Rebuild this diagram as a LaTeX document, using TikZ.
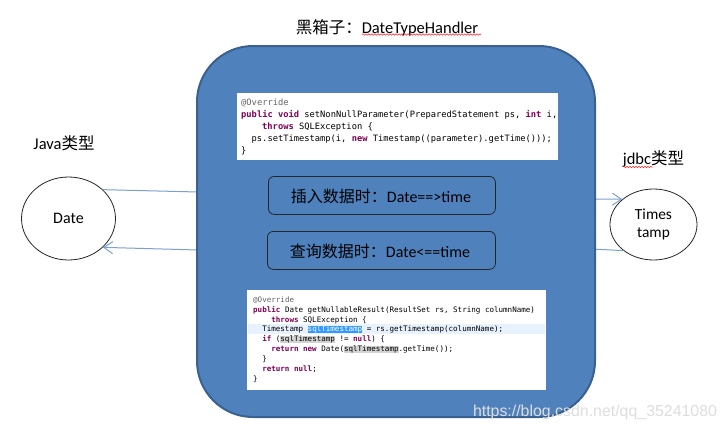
\documentclass[tikz,border=0pt]{standalone}
\usepackage{fontspec}
\setmainfont{Carlito}
\setmonofont{DejaVu Sans Mono}
\newfontfamily\cjk{Noto Sans CJK SC}
\newfontfamily\wmfont{Liberation Sans}
\usetikzlibrary{arrows.meta,shapes.geometric,decorations.pathmorphing}
\definecolor{boxblue}{HTML}{4F81BD}
\definecolor{boxedge}{HTML}{3A6190}
\definecolor{arrowc}{HTML}{7CA1D1}
\definecolor{kwc}{HTML}{7F0055}
\definecolor{annc}{HTML}{646464}
\definecolor{selc}{HTML}{3399FF}
\definecolor{occc}{HTML}{D4D4D4}
\definecolor{linec}{HTML}{E8F2FE}
\newcommand\kw[1]{\textcolor{kwc}{\textbf{#1}}}
\newcommand\ann[1]{\textcolor{annc}{#1}}
\newcommand\selw[1]{{\setlength{\fboxsep}{0pt}\colorbox{selc}{\textcolor{white}{#1}}}}
\newcommand\occw[1]{{\setlength{\fboxsep}{0pt}\colorbox{occc}{#1}}}
\newcommand\ind[1]{\hspace*{#1}}
\begin{document}
\begin{tikzpicture}[x=1pt,y=-1pt,
  bigbox/.style={draw=boxedge, line width=2pt, fill=boxblue, rounded corners=56pt, inner sep=0},
  codebox/.style={fill=white, draw=none, inner sep=0},
  opbox/.style={draw=black!85, fill=boxblue, rounded corners=6pt, line width=0.8pt, inner sep=0},
  ell/.style={ellipse, draw=black!85, fill=white, line width=0.8pt, inner sep=0},
  conn/.style={draw=arrowc, line width=1pt},
  tipd/.style={-{Straight Barb[length=9pt,width=12pt]}},
  codeA/.style={font=\ttfamily\fontsize{8.75}{10}\selectfont, inner sep=0, anchor=base west},
  codeB/.style={font=\ttfamily\fontsize{7.55}{9}\selectfont, inner sep=0, anchor=base west},
  lbl/.style={font=\fontsize{16.5}{18}\selectfont, inner sep=0},
  optext/.style={font=\fontsize{16}{18}\selectfont, inner sep=0},
  wavy/.style={draw=red!85, line width=0.5pt, decorate, decoration={snake, amplitude=0.8pt, segment length=3pt}}
]
\useasboundingbox (0,0) rectangle (726,431);
\fill[white] (0,0) rectangle (726,431);

% ellipses
\node[ell, minimum width=94pt, minimum height=83pt, font=\fontsize{16}{18}\selectfont] (date) at (68.5,218.5) {Date};
\node[ell, minimum width=87pt, minimum height=71pt, font=\fontsize{15.4}{18}\selectfont, align=center] (ts) at (653.5,224.5) {Times\\tamp};

% connector endpoints on the box edge
\coordinate (bl1) at (198,192);
\coordinate (bl2) at (198,250);
\coordinate (br1) at (592,199);
\coordinate (br2) at (592,249);
\draw[conn] (bl1) -- (date.40);
\draw[conn, tipd] (bl2) -- (date.-40);
\draw[conn, tipd] (br1) -- (ts.141);
\draw[conn] (br2) -- (ts.-139);

% big box
\node[bigbox, minimum width=398pt, minimum height=371pt, anchor=north west] (bb) at (196,45) {};

% titles
\node[lbl] (title) at (387,28) {{\cjk 黑箱子：}DateTypeHandler};
\draw[wavy] (362,34.5) -- (481,34.5);
\node[lbl] (javat) at (64,143) {Java{\cjk 类型}};
\node[lbl] (jdbct) at (653.5,159) {jdbc{\cjk 类型}};
\draw[wavy] (623,167) -- (653,167);

% code box 1
\node[codebox, minimum width=321pt, minimum height=67pt, anchor=north west] (cb1) at (237,93) {};
\node[codeA] (a1) at (241,105.5) {\ann{@Override}};
\node[codeA] (a2) at (241,117.5) {\kw{public} \kw{void} setNonNullParameter(PreparedStatement ps, \kw{int} i,};
\node[codeA] (a3) at (241,129.5) {\ind{2.4em}\kw{throws} SQLException \{};
\node[codeA] (a4) at (241,141.5) {\ind{1.2em}ps.setTimestamp(i, \kw{new} Timestamp((parameter).getTime()));};
\node[codeA] (a5) at (241,153.5) {\}};

% op boxes
\node[opbox, minimum width=227pt, minimum height=38pt, anchor=north west] (ins) at (268,176) {};
\node[optext] (inst) at (381,196) {{\cjk 插入数据时：}Date==>time};
\node[opbox, minimum width=228pt, minimum height=38pt, anchor=north west] (qry) at (267,231) {};
\node[optext] (qryt) at (380,251) {{\cjk 查询数据时：}Date<==time};

% code box 2
\node[codebox, minimum width=299pt, minimum height=100pt, anchor=north west] (cb2) at (247,290) {};
\node[fill=linec, minimum width=297pt, minimum height=10pt, inner sep=0, anchor=north west] (hl) at (248,323.5) {};
\node[codeB] (b1) at (253,302) {\ann{@Override}};
\node[codeB] (b2) at (253,312) {\kw{public} Date getNullableResult(ResultSet rs, String columnName)};
\node[codeB] (b3) at (253,322) {\ind{2.4em}\kw{throws} SQLException \{};
\node[codeB] (b4) at (253,331.5) {\ind{1.2em}Timestamp \selw{sqlTimestamp} = rs.getTimestamp(columnName);};
\node[codeB] (b5) at (253,341.5) {\ind{1.2em}\kw{if} (\occw{sqlTimestamp} != \kw{null}) \{};
\node[codeB] (b6) at (253,351.5) {\ind{2.4em}\kw{return} \kw{new} Date(\occw{sqlTimestamp}.getTime());};
\node[codeB] (b7) at (253,361) {\ind{1.2em}\}};
\node[codeB] (b8) at (253,371) {\ind{1.2em}\kw{return} \kw{null};};
\node[codeB] (b9) at (253,381.5) {\}};

% watermark
\node[font=\wmfont\fontsize{15.9}{18}\selectfont, text=black!13, inner sep=0] (wm) at (595,412) {https://blog.csdn.net/qq\_35241080};
\end{tikzpicture}
\end{document}
